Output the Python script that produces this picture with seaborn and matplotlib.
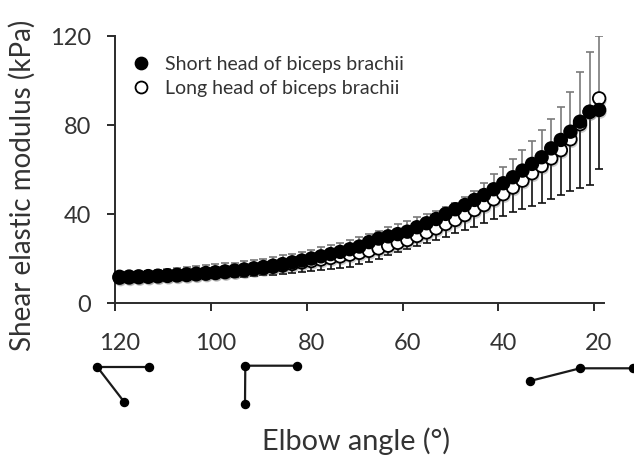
import pandas as pd
import matplotlib
matplotlib.use("Agg")
import matplotlib.pyplot as plt
import matplotlib.patheffects as pe
from matplotlib.lines import Line2D
from matplotlib.transforms import ScaledTranslation
import seaborn as sns

# -------- DATA --------
angle = list(range(119, 18, -2))

short_head = [11.8, 11.9, 12, 12.1, 12.3, 12.5, 12.7, 12.9, 13.2, 13.5,
              13.8, 14.2, 14.6, 15.1, 15.6, 16.2, 16.8, 17.5, 18.3, 19.1,
              20, 21, 22, 23, 24.2, 25.4, 27.4, 29, 30, 31,
              32.1, 34.1, 35.9, 37.8, 40.1, 42.2, 44.1, 46.4, 48.6, 51.2,
              53.9, 56.6, 59.6, 62.6, 65.6, 69.6, 73.4, 77.1, 81.6, 86.1, 86.9]

long_head = [11.4, 11.5, 11.6, 11.8, 12, 12.2, 12.4, 12.6, 12.9, 13.2,
             13.5, 13.9, 14.3, 14.7, 15.2, 15.7, 16.3, 16.9, 17.6, 18.3,
             18.9, 19.6, 20.3, 21, 21.8, 22.6, 23.5, 24.6, 25.8, 27.1,
             28.4, 30.2, 31.8, 33.6, 35.6, 37.4, 39.6, 41.9, 44.1, 46.7,
             49, 52, 55.1, 58.4, 61.7, 65.1, 68.8, 73.7, 80.5, 86, 92.1]

upper_cap = [13.5, 13.8, 14.1, 14.4, 14.8, 15.2, 15.6, 16, 16.5, 17,
             17.4, 17.8, 18.2, 18.7, 19.3, 19.9, 20.6, 21.4, 22.2, 23,
             24, 25, 26, 27.2, 28.4, 29.8, 31.2, 32.6, 34, 35.5,
             37, 38.5, 40, 41.5, 43, 45, 47.9, 50.4, 54, 58.2,
             61.3, 64.8, 68.9, 73, 78, 83, 88.2, 95, 104, 113, 120.2]

lower_cap = [10.2, 10.3, 10.4, 10.5, 10.6, 10.7, 10.8, 10.9, 11, 11.1,
             11.3, 11.5, 11.7, 11.9, 12.1, 12.4, 12.7, 13, 13.4, 13.8,
             14.2, 14.7, 15.2, 15.8, 16.4, 17.4, 18.6, 20, 21.5, 23,
             24.5, 25.7, 27.2, 28.4, 29.9, 31.4, 32.9, 34.4, 36.2, 37.7,
             39.3, 41, 42.3, 43.7, 45.2, 47, 48.7, 50.4, 51.6, 53.2, 60.3]

x_ticks = [120, 100, 80, 60, 40, 20]
y_ticks = [0, 40, 80, 120]
short_label = "Short head of biceps brachii"
long_label = "Long head of biceps brachii"

# elbow sketches under the axis (figure pixels, top left origin)
elbow_icons = [
    [(149, 367), (97.3, 367), (124, 401.7)],
    [(296.7, 365.7), (245.3, 365.7), (245, 404)],
    [(632.7, 368.3), (580, 368.3), (530, 381)],
]

# -------- PLOT --------
sns.set_style("ticks")
plt.rcParams["font.family"] = ["Lato", "DejaVu Sans"]
ink = "#333333"
W, H = 634, 457

df = pd.DataFrame({
    "angle": angle + angle,
    "modulus": long_head + short_head,
    "head": [long_label] * len(angle) + [short_label] * len(angle),
})

fig = plt.figure(figsize=(W / 100, H / 100), dpi=100)
ax = fig.add_axes([114.7 / W, 1 - 303 / H, (604 - 114.7) / W, (303 - 36.4) / H])

# error bars sit under the markers
ax.errorbar(angle, long_head,
            yerr=[[0] * len(angle), [u - m for u, m in zip(upper_cap, long_head)]],
            fmt="none", ecolor="#7a7a7a", elinewidth=1.2, capsize=3, capthick=1.2, zorder=2)
ax.errorbar(angle, short_head,
            yerr=[[m - l for m, l in zip(short_head, lower_cap)], [0] * len(angle)],
            fmt="none", ecolor="#111111", elinewidth=1.2, capsize=3, capthick=1.2, zorder=2)

sns.scatterplot(data=df, x="angle", y="modulus", hue="head",
                palette={short_label: "black", long_label: "white"},
                s=82, edgecolor="black", linewidth=1.3, legend=False, ax=ax, zorder=3,
                clip_on=False)
ax.collections[-1].set_path_effects(
    [pe.SimplePatchShadow(offset=(0.8, -1.8), shadow_rgbFace="#555555", alpha=0.3), pe.Normal()])

ax.set_xlim(120, 18)
ax.set_ylim(0, 120)
ax.set_xticks(x_ticks)
ax.set_yticks(y_ticks)
ax.set_xticklabels([str(t) for t in x_ticks])
ax.set_yticklabels([str(t) for t in y_ticks])
ax.set_xlabel("")
ax.set_ylabel("")
sns.despine(ax=ax)
for side in ["left", "bottom"]:
    ax.spines[side].set_linewidth(1.4)
    ax.spines[side].set_color("#2b2b2b")
ax.tick_params(axis="x", length=5.5, width=1.4, color="#2b2b2b", labelsize=17, labelcolor=ink, pad=16)
ax.tick_params(axis="y", length=5.5, width=1.4, color="#2b2b2b", labelsize=17, labelcolor=ink, pad=11.5)
shift = ScaledTranslation(4.5 / 100, 0, fig.dpi_scale_trans)
for lab in ax.get_xticklabels():
    lab.set_transform(lab.get_transform() + shift)

handles = [
    Line2D([], [], ls="", marker="o", ms=8.6, mfc="black", mec="black", mew=1.3, label=short_label),
    Line2D([], [], ls="", marker="o", ms=8.6, mfc="white", mec="black", mew=1.3, label=long_label),
]
ax.legend(handles=handles, frameon=False, fontsize=14, labelcolor=ink, handletextpad=0.24,
          labelspacing=0.38, loc="upper left", bbox_to_anchor=(-0.0225, 0.9925), borderaxespad=0.5)

fig.text(22 / W, 1 - 185 / H, "Shear elastic modulus (kPa)", rotation=90, fontsize=20,
         color=ink, ha="center", va="center")
fig.text(356 / W, 1 - 441 / H, "Elbow angle (°)", fontsize=20.8, color=ink, ha="center", va="center")

# overlay in pixel coordinates for the elbow sketches
overlay = fig.add_axes([0, 0, 1, 1], facecolor="none")
overlay.set_xlim(0, W)
overlay.set_ylim(H, 0)
overlay.axis("off")
for icon in elbow_icons:
    overlay.plot([p[0] for p in icon], [p[1] for p in icon], color="#1a1a1a", lw=1.6,
                 marker="o", ms=5.8, mfc="black", mec="black", clip_on=False)

fig.savefig("out.png", dpi=100)
